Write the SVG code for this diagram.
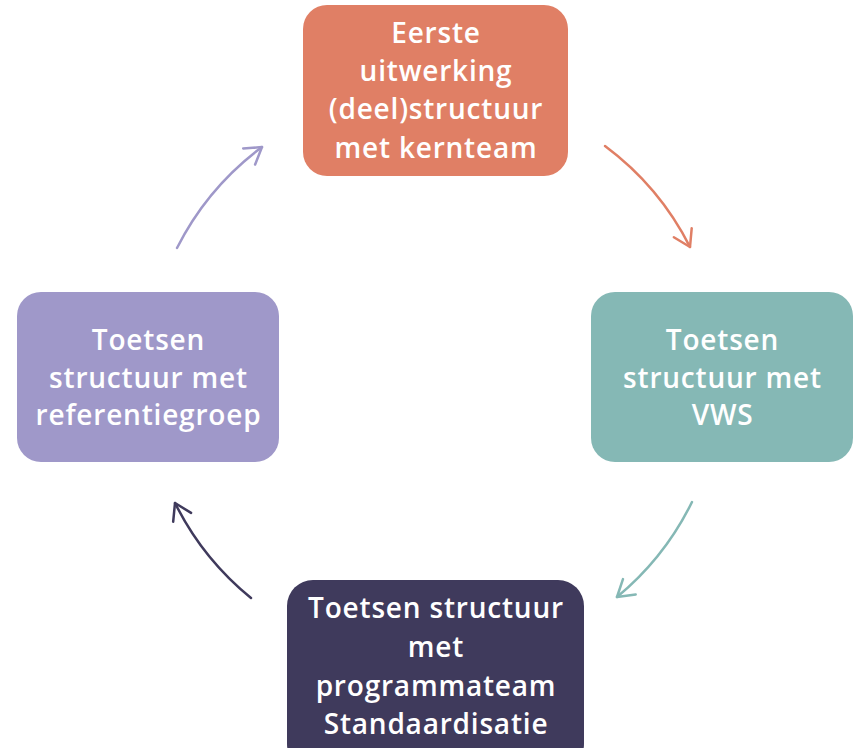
<svg xmlns="http://www.w3.org/2000/svg" width="855" height="748" viewBox="0 0 855 748">
<defs>
<style>
.lbl{font-family:"Open Sans","Noto Sans","DejaVu Sans",sans-serif;font-weight:600;font-size:28px;letter-spacing:0.8px;fill:#ffffff;text-anchor:middle}
.arc{fill:none;stroke-width:2.5;stroke-linecap:round}
</style>
<marker id="mO" markerUnits="userSpaceOnUse" orient="auto" markerWidth="40" markerHeight="40" refX="0" refY="0" viewBox="-20 -20 40 40" overflow="visible"><path d="M-16,-10 L0,0 L-16,10" fill="none" stroke="#E07F65" stroke-width="2.5" stroke-linecap="round" stroke-linejoin="round"/></marker>
<marker id="mT" markerUnits="userSpaceOnUse" orient="auto" markerWidth="40" markerHeight="40" refX="0" refY="0" viewBox="-20 -20 40 40" overflow="visible"><path d="M-16,-10 L0,0 L-16,10" fill="none" stroke="#85B8B5" stroke-width="2.5" stroke-linecap="round" stroke-linejoin="round"/></marker>
<marker id="mD" markerUnits="userSpaceOnUse" orient="auto" markerWidth="40" markerHeight="40" refX="0" refY="0" viewBox="-20 -20 40 40" overflow="visible"><path d="M-16,-10 L0,0 L-16,10" fill="none" stroke="#3F3A5C" stroke-width="2.5" stroke-linecap="round" stroke-linejoin="round"/></marker>
<marker id="mP" markerUnits="userSpaceOnUse" orient="auto" markerWidth="40" markerHeight="40" refX="0" refY="0" viewBox="-20 -20 40 40" overflow="visible"><path d="M-16,-10 L0,0 L-16,10" fill="none" stroke="#9F98C9" stroke-width="2.5" stroke-linecap="round" stroke-linejoin="round"/></marker>
</defs>
<rect width="855" height="748" fill="#ffffff"/>
<g id="connectors">
<path class="arc" d="M605,146 A287,287 0 0 1 690,247" stroke="#E07F65" marker-end="url(#mO)"/>
<path class="arc" d="M692,502 A287,287 0 0 1 617,597" stroke="#85B8B5" marker-end="url(#mT)"/>
<path class="arc" d="M251,598 A287,287 0 0 1 175,503" stroke="#3F3A5C" marker-end="url(#mD)"/>
<path class="arc" d="M177,248 A287,287 0 0 1 262,147" stroke="#9F98C9" marker-end="url(#mP)"/>
</g>
<g id="node-top">
<rect x="303" y="5" width="265" height="171" rx="24" fill="#E07F65"/>
<text class="lbl" x="436" y="43">Eerste</text>
<text class="lbl" x="436" y="81">uitwerking</text>
<text class="lbl" x="436" y="119">(deel)structuur</text>
<text class="lbl" x="436" y="158">met kernteam</text>
</g>
<g id="node-right">
<rect x="591" y="292" width="262" height="170" rx="24" fill="#85B8B5"/>
<text class="lbl" x="722.5" y="350">Toetsen</text>
<text class="lbl" x="722.5" y="388">structuur met</text>
<text class="lbl" x="722.5" y="425">VWS</text>
</g>
<g id="node-bottom">
<rect x="287" y="580" width="297" height="190" rx="26" fill="#3F3A5C"/>
<text class="lbl" x="436" y="618">Toetsen structuur</text>
<text class="lbl" x="436" y="657">met</text>
<text class="lbl" x="436" y="696">programmateam</text>
<text class="lbl" x="436" y="734">Standaardisatie</text>
</g>
<g id="node-left">
<rect x="17" y="292" width="262" height="170" rx="24" fill="#9F98C9"/>
<text class="lbl" x="148.5" y="350">Toetsen</text>
<text class="lbl" x="148.5" y="388">structuur met</text>
<text class="lbl" x="148.5" y="425">referentiegroep</text>
</g>
</svg>
